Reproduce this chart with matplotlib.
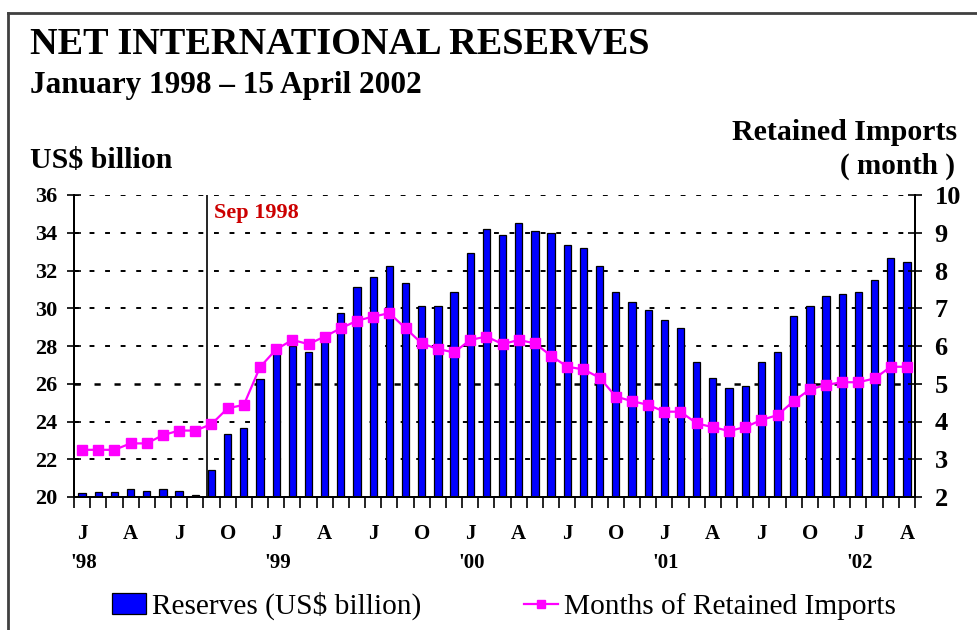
#!/usr/bin/env python3
"""Net international reserves, Jan 1998 - Apr 2002: bars plus months-of-imports line."""

import matplotlib

matplotlib.use("Agg")
import matplotlib.pyplot as plt
from matplotlib.lines import Line2D
from matplotlib.patches import Patch
import numpy as np

# monthly values, Jan 1998 .. Apr 2002 (52 months)
reserves = [
    20.23, 20.28, 20.28, 20.4, 20.3, 20.4, 20.3, 20.1, 21.43, 23.34, 23.66, 26.23,
    27.6, 28.0, 27.7, 28.23, 29.73, 31.1, 31.64, 32.25, 31.32, 30.14, 30.1, 30.88,
    32.91, 34.18, 33.88, 34.5, 34.09, 33.97, 33.33, 33.21, 32.24, 30.85, 30.33, 29.91,
    29.38, 28.97, 27.17, 26.29, 25.76, 25.88, 27.17, 27.67, 29.6, 30.14, 30.65, 30.75,
    30.88, 31.5, 32.68, 32.47,
]
import_months = [
    3.25, 3.25, 3.25, 3.42, 3.42, 3.64, 3.76, 3.76, 3.93, 4.35, 4.44, 5.44,
    5.91, 6.16, 6.05, 6.25, 6.47, 6.67, 6.78, 6.87, 6.47, 6.07, 5.92, 5.83,
    6.16, 6.25, 6.05, 6.16, 6.07, 5.74, 5.45, 5.38, 5.16, 4.66, 4.54, 4.44,
    4.26, 4.26, 3.95, 3.85, 3.75, 3.85, 4.04, 4.17, 4.54, 4.85, 4.97, 5.04,
    5.04, 5.14, 5.45, 5.45,
]
quarter_labels = ["J", "A", "J", "O"] * 4 + ["J", "A"]
year_labels = ["'98", "'99", "'00", "'01", "'02"]
left_ticks = list(range(20, 37, 2))
right_ticks = list(range(2, 11))

SERIF = ["Liberation Serif", "DejaVu Serif"]
plt.rcParams["font.family"] = SERIF
plt.rcParams["font.weight"] = "bold"

fig = plt.figure(figsize=(9.78, 6.3), dpi=100)
ax = fig.add_axes([74 / 978, 1 - 497 / 630, 841 / 978, 302 / 630])
ax2 = ax.twinx()

x = np.arange(len(reserves))
ax.set_xlim(-0.5, len(reserves) - 0.5)
ax.set_ylim(20, 36)
ax2.set_ylim(2, 10)

for v in left_ticks[1:]:
    lw = 1.8 if v == 26 else 1.4
    ax.axhline(v, color="black", linewidth=lw, linestyle=(0, (2.5, 5.5)), zorder=0)

ax.bar(x, [r - 20 for r in reserves], bottom=20, width=0.45, color="#0000ff",
       edgecolor="black", linewidth=0.9, zorder=2)
ax.axvline(7.75, color="black", linewidth=1.2, zorder=3)
ax.text(8.15, 35.05, "Sep 1998", color="#cc0000", fontsize=16, fontweight="bold",
        va="center", ha="left")

ax2.plot(x, import_months, color="#ff00ff", linewidth=1.6, marker="s",
         markersize=7.5, zorder=4)

ax.set_yticks(left_ticks)
ax.set_yticklabels([str(t) for t in left_ticks], fontsize=16, fontweight="bold")
ax2.set_yticks(right_ticks)
ax2.set_yticklabels([str(t) for t in right_ticks], fontsize=19, fontweight="bold")
ax.tick_params(axis="y", direction="inout", length=10, width=1.2, pad=7)
ax2.tick_params(axis="y", direction="inout", length=10, width=1.2, pad=9)

ax.set_xticks(np.arange(-0.5, len(reserves), 1.0))
ax.set_xticklabels([])
ax.tick_params(axis="x", direction="out", length=8, width=1.2)

for i, lab in enumerate(quarter_labels):
    ax.text(i * 3, -0.1225, lab, transform=ax.get_xaxis_transform(),
            ha="center", va="center", fontsize=15, fontweight="bold")
for i, lab in enumerate(year_labels):
    ax.text(i * 12 + 0.1, -0.2185, lab, transform=ax.get_xaxis_transform(),
            ha="center", va="center", fontsize=15, fontweight="bold")

for a in (ax, ax2):
    a.spines["top"].set_visible(False)
    for side in ("left", "right", "bottom"):
        a.spines[side].set_linewidth(1.4)
ax2.set_zorder(ax.get_zorder() + 1)
ax2.patch.set_visible(False)

fig.text(30 / 978, 1 - 44 / 630, "NET INTERNATIONAL RESERVES", fontsize=27.5,
         fontweight="bold", va="center", ha="left")
fig.text(30 / 978, 1 - 85 / 630, "January 1998 \u2013 15 April 2002", fontsize=22.5,
         fontweight="bold", va="center", ha="left")
fig.text(30 / 978, 1 - 160 / 630, "US$ billion", fontsize=21.5,
         fontweight="bold", va="center", ha="left")
fig.text(957 / 978, 1 - 133 / 630, "Retained Imports", fontsize=21.5,
         fontweight="bold", va="center", ha="right")
fig.text(955 / 978, 1 - 166 / 630, "( month )", fontsize=21,
         fontweight="bold", va="center", ha="right")

handles = [
    Patch(facecolor="#0000ff", edgecolor="black", linewidth=0.9),
    Line2D([], [], color="#ff00ff", linewidth=1.6, marker="s", markersize=6),
]
fig.legend(handles, ["Reserves (US$ billion)", "Months of Retained Imports"],
           loc="center", bbox_to_anchor=(504 / 978, 1 - 606 / 630), ncol=2,
           frameon=False, columnspacing=3.5, handlelength=1.15,
           handletextpad=0.2,
           prop={"family": "Liberation Serif", "weight": "normal", "size": 21.2})

# partial outer frame: left and top edges only
fig.add_artist(Line2D([8 / 978, 8 / 978], [0, 1 - 13 / 630], color="#404040",
                      linewidth=2.0, transform=fig.transFigure))
fig.add_artist(Line2D([8 / 978, 1], [1 - 13 / 630, 1 - 13 / 630], color="#404040",
                      linewidth=2.0, transform=fig.transFigure))

fig.savefig("out.png", dpi=100)
